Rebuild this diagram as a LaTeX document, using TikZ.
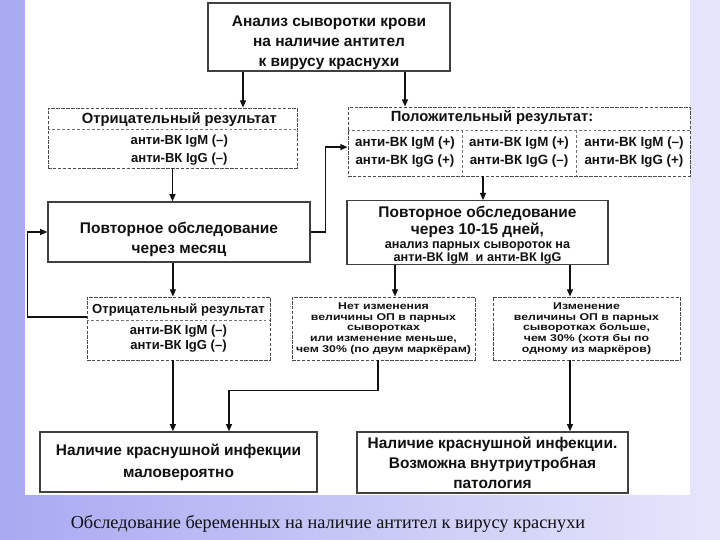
\documentclass[tikz,border=0pt]{standalone}
\usepackage{fontspec}
\setmainfont{Liberation Sans}
\newfontfamily\capfont{Liberation Serif}
\newfontfamily\widesans[FakeStretch=1.25]{Liberation Sans}
\usetikzlibrary{arrows.meta,positioning,calc}
\definecolor{bgleft}{HTML}{A9A9F2}
\definecolor{bgright}{HTML}{E6E6FB}
\definecolor{ink}{HTML}{111111}
\newcommand{\smalltxt}{\fontsize{9}{9.5}\selectfont}
\newcommand{\dn}[1]{\rule{0pt}{#1}}
\newcommand{\notefont}{\widesans\bfseries\fontsize{7}{7.6}\selectfont\lineskiplimit=-10pt\relax}
\tikzset{
  mainbox/.style={draw=black!75, line width=1pt, fill=white, inner sep=0pt,
                  align=center, text=ink, font=\bfseries\fontsize{11}{14.2}\selectfont},
  resbox/.style={draw=black!70, line width=0.7pt, dash pattern=on 2.5pt off 1pt,
                 fill=white, inner sep=0pt},
  sepline/.style={draw=black!55, line width=0.6pt, dash pattern=on 2pt off 1.5pt},
  arr/.style={-{Triangle[length=1.8mm,width=1.5mm]}, line width=0.9pt, color=ink}}

\begin{document}
\begin{tikzpicture}[
         hdr/.style={text=ink, font=\bfseries\fontsize{10.5}{12}\selectfont},
         ab/.style={text=ink, align=center, font=\bfseries\fontsize{9.3}{13}\selectfont},
         note/.style={resbox, text=ink, align=center, font=\notefont}]
        % slide background and the white sheet
        \shade[left color=bgleft, right color=bgright] (0,0) rectangle (18,13.5);
        \fill[white] (0.625,1.125) rectangle (17.25,13.5);
        \useasboundingbox (0,0) rectangle (18,13.5);
        \node[mainbox, minimum width=6.05cm, minimum height=1.7cm] (ana) at (8.225,12.575)
          {\dn{16pt}Анализ сыворотки крови\\на наличие антител\\к вирусу краснухи};
        % first result: negative
        \node[resbox, minimum width=6.225cm, minimum height=1.5cm] (neg1) at (4.3125,10.05) {};
        \node[hdr] (neg1h) at ([xshift=0.17cm,yshift=-0.3cm]neg1.north) {Отрицательный результат};
        \coordinate (neg1s) at ([yshift=-0.55cm]neg1.north);
        \draw[sepline] (neg1.west |- neg1s) -- (neg1.east |- neg1s);
        \node[ab] (neg1a) at ([xshift=0.17cm,yshift=-1.075cm]neg1.north) {анти-ВК IgM (–)\\анти-ВК IgG (–)};
        % first result: positive, three cases
        \node[resbox, minimum width=8.55cm, minimum height=1.725cm] (pos) at (12.975,9.9625) {};
        \node[hdr] (posh) at ([xshift=-0.675cm,yshift=-0.275cm]pos.north) {Положительный результат:};
        \coordinate (poss) at ([yshift=-0.6cm]pos.north);
        \draw[sepline] (pos.west |- poss) -- (pos.east |- poss);
        \node[ab, font=\bfseries\fontsize{9.5}{13}\selectfont] (c1) at (10.125,9.7) {анти-ВК IgM (+)\\анти-ВК IgG (+)};
        \node[ab, font=\bfseries\fontsize{9.5}{13}\selectfont] (c2) at (12.975,9.7) {анти-ВК IgM (+)\\анти-ВК IgG (–)};
        \node[ab, font=\bfseries\fontsize{9.5}{13}\selectfont] (c3) at (15.85,9.7) {анти-ВК IgM (–)\\анти-ВК IgG (+)};
        \coordinate (d1) at ($(c1)!0.5!(c2)$);
        \coordinate (d2) at ($(c2)!0.5!(c3)$);
        \draw[sepline] (d1 |- poss) -- (d1 |- pos.south);
        \draw[sepline] (d2 |- poss) -- (d2 |- pos.south);
        % repeated tests
        \node[mainbox, minimum width=6.55cm, minimum height=1.5cm] (rep1) at (4.475,7.7)
          {\dn{19pt}Повторное обследование\\через месяц};
        \node[mainbox, minimum width=6.525cm, minimum height=1.475cm,
              font=\bfseries\fontsize{11}{12}\selectfont] (rep2) at (11.9375,7.6875)
          {\dn{12pt}Повторное обследование\\через 10-15 дней,\\[-2pt]\smalltxt анализ парных сывороток на\\[-2.8pt]\smalltxt анти-ВК IgM~~и анти-ВК IgG};
        % second results
        \node[resbox, minimum width=4.575cm, minimum height=1.575cm] (neg2) at (4.4625,5.2875) {};
        \node[hdr, font=\bfseries\fontsize{9.3}{11}\selectfont] (neg2h) at ([yshift=-0.325cm]neg2.north) {Отрицательный результат};
        \coordinate (neg2s) at ([yshift=-0.6cm]neg2.north);
        \draw[sepline] (neg2.west |- neg2s) -- (neg2.east |- neg2s);
        \node[ab, font=\bfseries\fontsize{9.3}{10.6}\selectfont] (neg2a) at ([yshift=-1.0625cm]neg2.north) {анти-ВК IgM (–)\\анти-ВК IgG (–)};
        \node[note, minimum width=4.575cm, minimum height=1.575cm] (nochg) at (9.5875,5.2875)
          {Нет изменения\\величины ОП в парных\\сыворотках\\или изменение меньше,\\чем 30\% (по двум маркёрам)};
        \node[note, minimum width=4.675cm, minimum height=1.575cm] (chg) at (14.6625,5.2875)
          {Изменение\\величины ОП в парных\\сыворотках больше,\\чем 30\% (хотя бы по\\одному из маркёров)};
        % conclusions
        \node[mainbox, minimum width=6.925cm, minimum height=1.5cm,
              font=\bfseries\fontsize{11}{15.5}\selectfont] (unl) at (4.4625,1.95)
          {Наличие краснушной инфекции\\маловероятно};
        \node[mainbox, minimum width=6.775cm, minimum height=1.525cm] (inf) at (12.3125,1.9375)
          {Наличие краснушной инфекции.\\Возможна внутриутробная\\патология};
        \node[text=ink, font=\capfont\fontsize{13}{15}\selectfont] (cap) at (8.2,0.4)
          {Обследование беременных на наличие антител к вирусу краснухи};
        % connectors
        \draw[arr] ([xshift=-2.15cm]ana.south) -- ([xshift=-2.15cm]ana.south |- neg1.north);
        \draw[arr] ([xshift=1.9cm]ana.south) -- ([xshift=1.9cm]ana.south |- pos.north);
        \draw[arr] (neg1.south) -- (neg1.south |- rep1.north);
        \draw[arr] ([xshift=0.1375cm]rep2.north |- pos.south) -- ([xshift=0.1375cm]rep2.north);
        \draw[arr] (rep1.east) -- ++(0.375,0) |- ([yshift=-0.14cm]pos.west);
        \draw[arr] ([xshift=-0.14cm]neg2.north |- rep1.south) -- ([xshift=-0.14cm]neg2.north);
        \draw[arr] ([yshift=0.29cm]neg2.west) -- ++(-1.475,0) |- (rep1.west);
        \draw[arr] ([xshift=0.2875cm]nochg.north |- rep2.south) -- ([xshift=0.2875cm]nochg.north);
        \draw[arr] ([xshift=-0.4125cm]chg.north |- rep2.south) -- ([xshift=-0.4125cm]chg.north);
        \draw[arr] ([xshift=-0.14cm]neg2.south) -- ([xshift=-0.14cm]neg2.south |- unl.north);
        \draw[arr] ([xshift=-0.14cm]nochg.south) -- ++(0,-0.75) -| ([xshift=1.2625cm]unl.north);
        \draw[arr] ([xshift=-0.4125cm]chg.south) -- ([xshift=-0.4125cm]chg.south |- inf.north);
      \end{tikzpicture}
\end{document}
